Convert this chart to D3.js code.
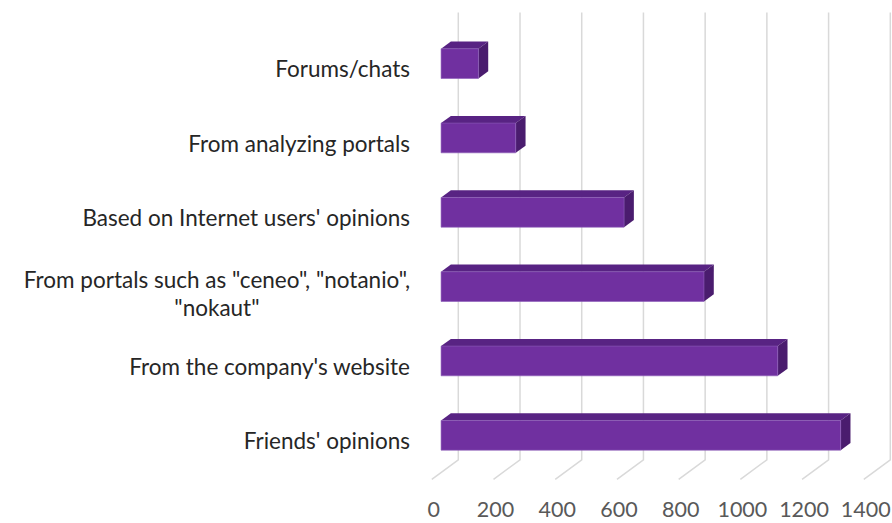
<!DOCTYPE html>
<html>
<head>
<meta charset="utf-8">
<script src="https://cdn.jsdelivr.net/npm/d3@7"></script>
<style>
  html, body { margin: 0; padding: 0; background: #ffffff; }
  svg { display: block; }
</style>
</head>
<body>
<svg id="chart" width="892" height="523"></svg>
<script>
// ---- data ----
const categories = [
  "Friends' opinions",
  "From the company's website",
  'From portals such as "ceneo", "notanio", "nokaut"',
  "Based on Internet users' opinions",
  "From analyzing portals",
  "Forums/chats"
];
const values = [1295, 1091, 852, 593, 242, 121];
const tickValues = [0, 200, 400, 600, 800, 1000, 1200, 1400];

// ---- layout ----
const W = 892, H = 523;
const wallTop = 13.8, floorBack = 459.8;
const depth = { dx: -26.5, dy: 19.5 };   // from back wall (t=0) to front edge (t=1)
const tFront = 0.65, tBack = 0.28;       // bar depth span
const fontFam = "Lato, 'Liberation Sans', sans-serif";

const svg = d3.select("#chart");

const x = d3.scaleLinear().domain([0, 1400]).range([458.3, 890.3]);
const y = d3.scaleBand()
  .domain(categories.slice().reverse())
  .range([wallTop, floorBack])
  .paddingInner(0.6)
  .paddingOuter(0.3);

const P = (v, yy, t) => [x(v) + t * depth.dx, yy + t * depth.dy];

// ---- gridlines: back wall + floor ----
const grid = svg.append("g");
tickValues.forEach(v => {
  const pts = [[x(v), 12.5], [x(v), floorBack], P(v, floorBack, 1)];
  grid.append("path")
    .attr("d", d3.line()(pts))
    .attr("fill", "none")
    .attr("stroke", "#d9d9d9")
    .attr("stroke-width", 1.5);
});

// ---- value tick labels (front edge) ----
svg.append("g").selectAll("text")
  .data(tickValues)
  .join("text")
  .attr("x", d => P(d, floorBack, 1)[0] + 2)
  .attr("y", 516.5)
  .attr("text-anchor", "middle")
  .attr("font-family", fontFam)
  .attr("font-size", 21.5)
  .attr("fill", "#595959")
  .text(d => d);

// ---- bars (3D boxes) ----
const bars = svg.append("g");
categories.forEach((c, i) => {
  const v = values[i];
  const y0 = y(c), y1 = y(c) + y.bandwidth();
  const fTL = P(0, y0, tFront), fTR = P(v, y0, tFront), fBR = P(v, y1, tFront), fBL = P(0, y1, tFront);
  const bTL = P(0, y0, tBack), bTR = P(v, y0, tBack), bBR = P(v, y1, tBack);
  const g = bars.append("g");
  // top face
  g.append("path").attr("d", d3.line()([fTL, fTR, bTR, bTL]) + "Z").attr("fill", "#582383");
  // right side face
  g.append("path").attr("d", d3.line()([fTR, bTR, bBR, fBR]) + "Z").attr("fill", "#4a1c6e");
  // front face
  g.append("path").attr("d", d3.line()([fTL, fTR, fBR, fBL]) + "Z")
    .attr("fill", "#7030a0").attr("stroke", "#8c5cb8").attr("stroke-width", 0.6);
});

// ---- category labels ----
const labelG = svg.append("g");
const maxW = 405, lineH = 28.5;
categories.forEach(c => {
  const frontCenter = y(c) + y.bandwidth() / 2 + depth.dy; // front plane (t=1)
  const t = labelG.append("text")
    .attr("font-family", fontFam)
    .attr("font-size", 22.5)
    .attr("fill", "#262626");
  // wrap words
  const words = c.split(" ");
  const lines = [];
  let cur = [];
  const probe = t.append("tspan");
  words.forEach(w => {
    const test = cur.concat([w]).join(" ");
    probe.text(test);
    if (probe.node().getComputedTextLength() > maxW && cur.length) {
      lines.push(cur.join(" "));
      cur = [w];
    } else cur.push(w);
  });
  lines.push(cur.join(" "));
  probe.remove();
  // measure widest line
  let widest = 0;
  lines.forEach(l => {
    const s = t.append("tspan").text(l);
    widest = Math.max(widest, s.node().getComputedTextLength());
    s.remove();
  });
  const rightX = 410;
  const n = lines.length;
  if (n === 1) {
    t.attr("text-anchor", "end");
    t.append("tspan").attr("x", rightX).attr("y", frontCenter + 7).text(lines[0]);
  } else {
    t.attr("text-anchor", "middle");
    lines.forEach((l, k) => {
      t.append("tspan")
        .attr("x", rightX - widest / 2)
        .attr("y", frontCenter + 8.5 + (k - (n - 1) / 2) * lineH)
        .text(l);
    });
  }
});
</script>
</body>
</html>
